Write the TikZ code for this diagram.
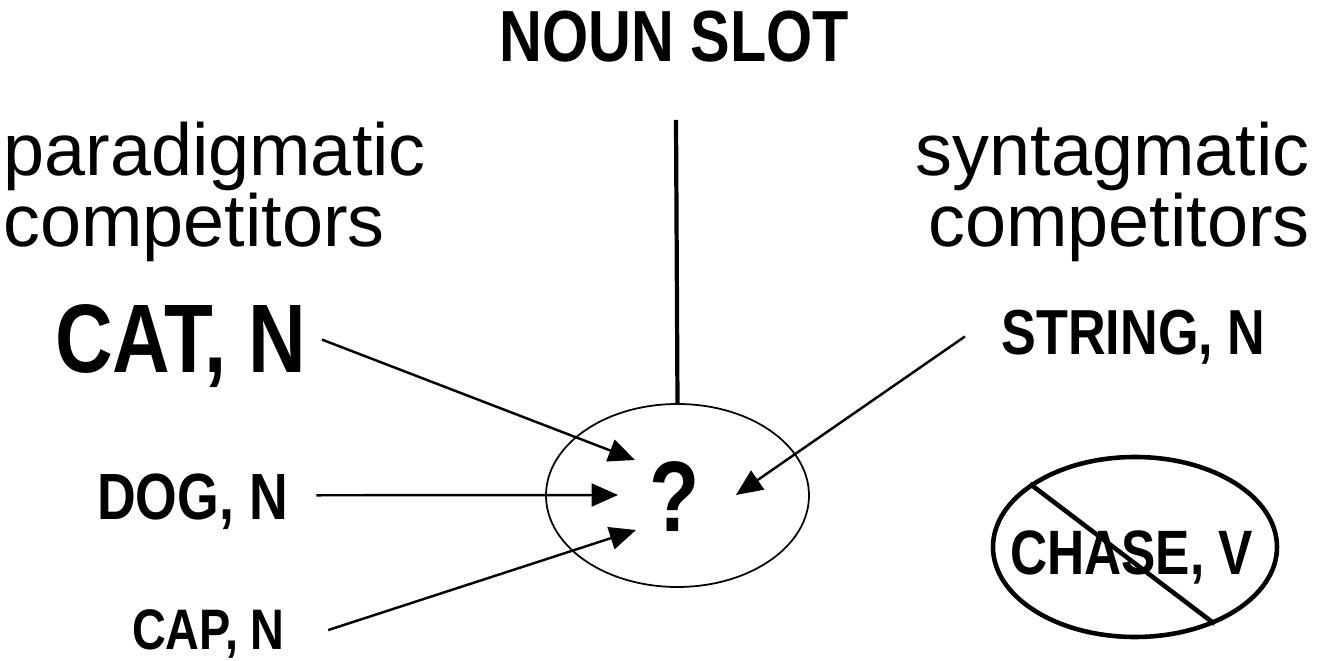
\documentclass[tikz,border=0pt]{standalone}
\usepackage{fontspec}
\setmainfont{Liberation Sans}
\newfontfamily\condfont[FakeStretch=0.82]{Liberation Sans}
\usetikzlibrary{arrows.meta,shapes.geometric}

\tikzset{
  word/.style={font=\condfont\bfseries\fontsize{#1}{#1}\selectfont, inner sep=2pt},
  side/.style={font=\fontsize{42}{40.8}\selectfont, align=#1, inner sep=0pt},
  arr/.style={-{Triangle[length=15pt,width=13pt]}, line width=1.4pt}
}

\begin{document}
\begin{tikzpicture}
                \useasboundingbox (0,0) rectangle (26.66,13.22);
                \node[word=41.2, anchor=base] (nounslot) at (13.49,11.98) {NOUN SLOT};
                \node[side=left, anchor=base west] (para) at (0.06,8.28) {paradigmatic\\competitors};
                \node[side=right, anchor=base east] (synt) at (26.20,8.28) {syntagmatic\\competitors};
                \node[draw, ellipse, line width=1pt, minimum width=5.26cm, minimum height=3.66cm] (slot) at (13.55,3.31) {};
                \node[word=57, anchor=base] (q) at (13.50,2.58) {?};
                \coordinate (slottop) at (13.52,10.82);
                \draw[line width=2.4pt] (slottop) -- (slot.north);
                \node[word=55.4, anchor=base] (cat) at (3.62,5.76) {CAT, N};
                \node[word=37.2, anchor=base] (dog) at (3.85,2.82) {DOG, N};
                \node[word=32.5, anchor=base] (cap) at (4.17,0.22) {CAP, N};
                \node[word=36.2, anchor=base] (string) at (22.67,6.12) {STRING, N};
                \coordinate (tipcat) at (12.70,4.02);
                \coordinate (tipdog) at (12.36,3.32);
                \coordinate (tipcap) at (12.72,2.62);
                \coordinate (tipstring) at (14.72,3.32);
                \draw[arr, shorten <=7pt] (cat.5) -- (tipcat);
                \draw[arr, shorten <=14pt] (dog.4) -- (tipdog);
                \draw[arr, shorten <=23.6pt] (cap.-6) -- (tipcap);
                \draw[arr, shorten <=22.7pt] (string.170) -- (tipstring);
                \node[word=35.7, anchor=base] (chaseword) at (22.63,1.72) {CHASE, V};
                \node[draw, ellipse, line width=2.6pt, minimum width=5.68cm, minimum height=3.6cm] (chase) at (22.70,2.28) {};
                \draw[line width=2.6pt] (chase.149) -- (chase.-44);
\end{tikzpicture}
\end{document}
